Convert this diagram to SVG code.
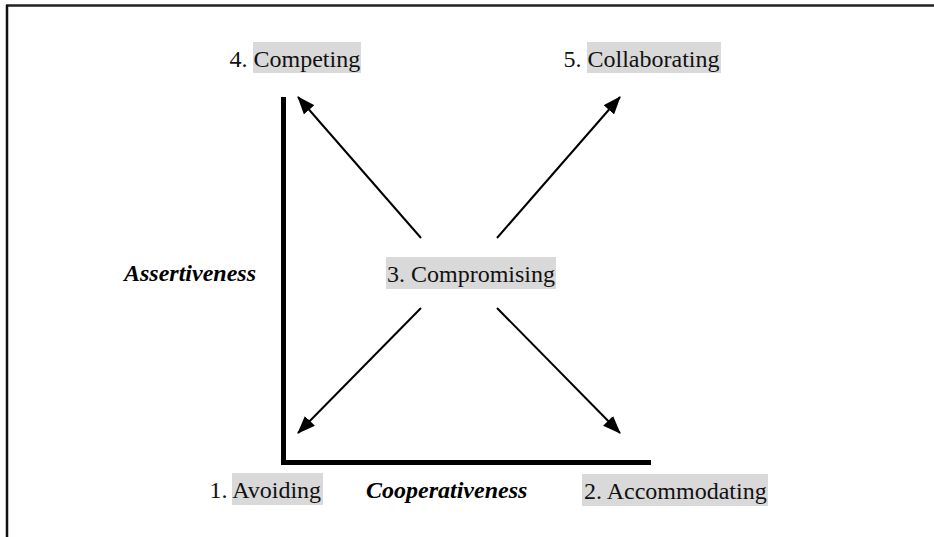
<svg xmlns="http://www.w3.org/2000/svg" width="934" height="537" viewBox="0 0 934 537">
<style>
.t{font-family:"Liberation Serif","Times New Roman",serif;font-size:24px;fill:#111}
.b{font-family:"Liberation Serif","Times New Roman",serif;font-size:24px;font-weight:bold;font-style:italic;fill:#000}
.hl{fill:#d9d9d9}
.arr{stroke:#000;stroke-width:2;fill:none;marker-end:url(#ah)}
</style>
<defs>
<marker id="ah" viewBox="0 0 10 10" refX="9" refY="5" markerWidth="9" markerHeight="7" orient="auto" markerUnits="userSpaceOnUse">
<path d="M0,0 L10,5 L0,10 z" fill="#000"/>
</marker>
<marker id="ah2" viewBox="0 0 18 14" refX="17" refY="7" markerWidth="18" markerHeight="14" orient="auto" markerUnits="userSpaceOnUse">
<path d="M0,0 L18,7 L0,14 z" fill="#000"/>
</marker>
</defs>
<rect width="934" height="537" fill="#fff"/>
<g id="frame">
<line x1="6" y1="5.5" x2="934" y2="5.5" stroke="#222" stroke-width="2.5"/>
<line x1="7" y1="5" x2="7" y2="537" stroke="#111" stroke-width="2.5"/>
</g>
<g id="axes">
<rect x="281" y="97" width="5" height="368" fill="#000"/>
<rect x="281" y="460" width="370" height="5" fill="#000"/>
</g>
<g id="connectors" stroke="#000" stroke-width="2" fill="none">
<line x1="421" y1="238" x2="298" y2="97" marker-end="url(#ah2)"/>
<line x1="497" y1="238" x2="620" y2="97" marker-end="url(#ah2)"/>
<line x1="421" y1="308" x2="298" y2="433" marker-end="url(#ah2)"/>
<line x1="497" y1="308" x2="620" y2="433" marker-end="url(#ah2)"/>
</g>
<g id="competing">
<rect class="hl" x="253" y="42" width="108" height="31"/>
<text class="t" x="229.5" y="67">4. Competing</text>
</g>
<g id="collaborating">
<rect class="hl" x="587" y="42" width="134" height="31"/>
<text class="t" x="563.5" y="67">5. Collaborating</text>
</g>
<g id="compromising">
<rect class="hl" x="386" y="257" width="170" height="32"/>
<text class="t" x="387" y="282">3. Compromising</text>
</g>
<g id="avoiding">
<rect class="hl" x="232" y="473" width="91" height="32"/>
<text class="t" x="209.5" y="498">1. Avoiding</text>
</g>
<g id="accommodating">
<rect class="hl" x="582" y="474" width="186" height="32"/>
<text class="t" x="584" y="499">2. Accommodating</text>
</g>
<g id="assertiveness">
<text class="b" x="124" y="281">Assertiveness</text>
</g>
<g id="cooperativeness">
<text class="b" x="366" y="498">Cooperativeness</text>
</g>
</svg>
